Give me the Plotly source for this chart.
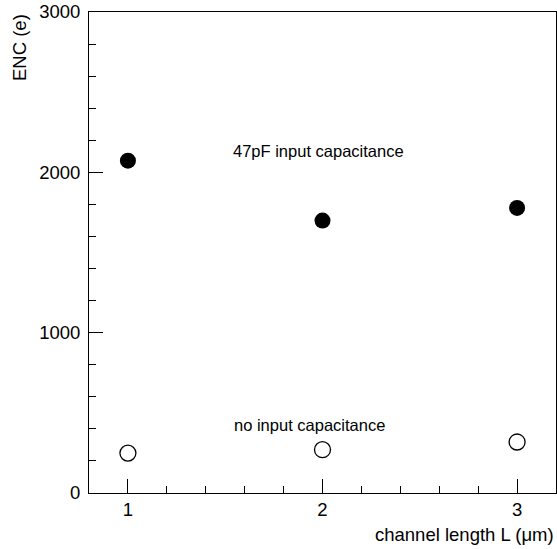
import plotly.graph_objects as go

channel_length = [1, 2, 3]
enc_47pf = [2073, 1699, 1778]
enc_no_cap = [249, 270, 318]

label_47pf = "47pF input capacitance"
label_no_cap = "no input capacitance"
x_title = "channel length L (\u03bcm)"
y_title = "ENC (e)"

FONT = "Liberation Sans, Arial, Helvetica, sans-serif"

fig = go.Figure()
fig.add_trace(go.Scatter(
    x=channel_length, y=enc_47pf, mode="markers",
    marker=dict(symbol="circle", size=16, color="black", line=dict(width=0)),
    showlegend=False,
))
fig.add_trace(go.Scatter(
    x=channel_length, y=enc_no_cap, mode="markers",
    marker=dict(symbol="circle-open", size=16, color="black", line=dict(width=1.3)),
    showlegend=False,
))

fig.add_annotation(x=1.978, y=2134, xref="x", yref="y", text=label_47pf,
                   showarrow=False, font=dict(size=16.5, color="black", family=FONT))
fig.add_annotation(x=1.934, y=425, xref="x", yref="y", text=label_no_cap,
                   showarrow=False, font=dict(size=16.5, color="black", family=FONT))

fig.add_annotation(x=-0.1488, y=1.0, xref="paper", yref="paper", text=y_title,
                   textangle=-90, xanchor="center", yanchor="top",
                   showarrow=False, font=dict(size=18.5, color="black", family=FONT))
fig.add_annotation(x=1.0, y=-0.087, xref="paper", yref="paper", text=x_title,
                   xanchor="right", yanchor="middle",
                   showarrow=False, font=dict(size=18.5, color="black", family=FONT))

fig.update_xaxes(
    range=[0.8, 3.2], tickvals=[1, 2, 3], ticks="inside", ticklen=14, tickwidth=1,
    tickcolor="black", showline=True, linecolor="black", linewidth=1, mirror=True,
    showgrid=False, zeroline=False,
    minor=dict(dtick=0.2, tick0=0.8, ticks="inside", ticklen=7, tickcolor="black", showgrid=False),
    tickfont=dict(size=18.5, color="black", family=FONT),
)
fig.update_yaxes(
    range=[0, 3000], tickvals=[0, 1000, 2000, 3000], ticks="inside", ticklen=14, tickwidth=1,
    tickcolor="black", showline=True, linecolor="black", linewidth=1, mirror=True,
    showgrid=False, zeroline=False, ticklabelstandoff=4,
    minor=dict(dtick=200, tick0=0, ticks="inside", ticklen=7, tickcolor="black", showgrid=False),
    tickfont=dict(size=18.5, color="black", family=FONT),
)

fig.update_layout(
    width=557, height=549,
    margin=dict(l=89, r=1, t=12, b=56, pad=0),
    paper_bgcolor="white", plot_bgcolor="white",
    font=dict(family=FONT, color="black"),
)

fig.write_html("out.html")
